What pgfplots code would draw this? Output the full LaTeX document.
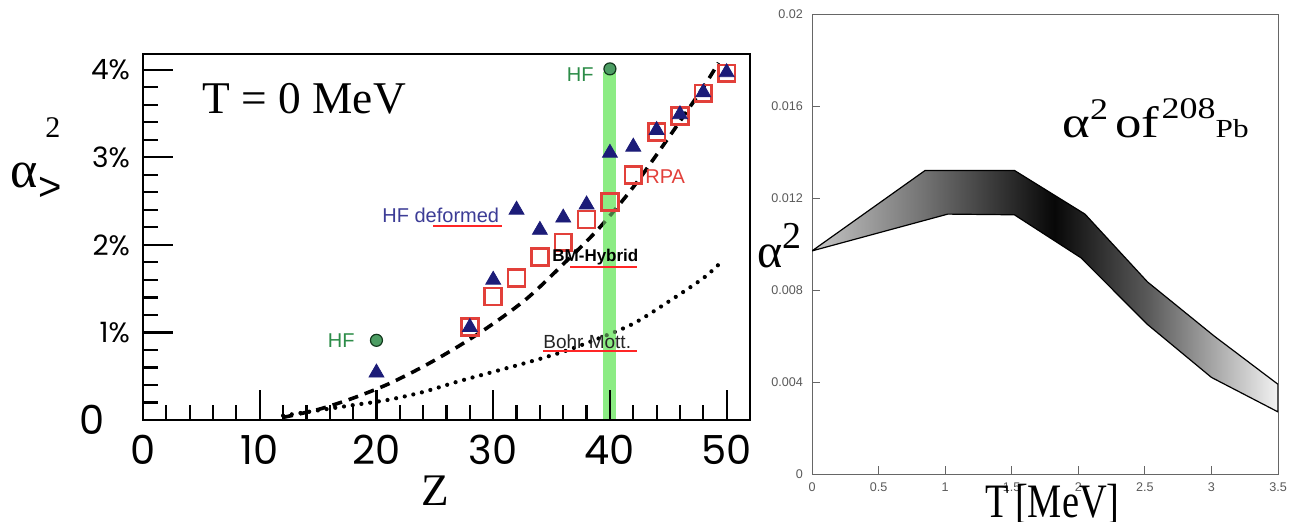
\documentclass[border=0pt]{standalone}
\usepackage{fontspec}
\setmainfont{Liberation Serif}
\newfontfamily\pop{Poppins}
\newfontfamily\lsans{Liberation Sans}
\usepackage{pgfplots}
\pgfplotsset{compat=1.18}

\definecolor{hfgreen}{RGB}{44,140,72}
\definecolor{bandgreen}{RGB}{140,236,132}
\definecolor{navy}{RGB}{28,28,120}
\definecolor{rpared}{RGB}{226,64,58}
\definecolor{defblue}{RGB}{60,60,150}

% grey band: light at T=0, black near T=1.8, almost white at T=3.5
\pgfdeclarehorizontalshading{alphaband}{100bp}{color(0bp)=(black!22); color(25bp)=(black!22);
  color(37bp)=(black!55); color(51bp)=(black!97); color(61bp)=(black!65);
  color(68bp)=(black!35); color(75bp)=(black!5); color(100bp)=(black!5)}

\begin{document}
\begin{tikzpicture}
\useasboundingbox (0,0) rectangle (647pt,260.5pt);

% ---------- left: alpha^2 vs Z at T = 0 ----------
\begin{axis}[
  at={(71.5pt,50.5pt)}, anchor=south west,
  scale only axis, width=303.5pt, height=183pt,
  xmin=0, xmax=52, ymin=0, ymax=4.18,
  axis on top,
  axis line style={line width=1.3pt},
  tick align=inside,
  xtick={0,10,20,30,40,50}, xticklabels={0,10,20,30,40,50},
  ytick={0,1,2,3,4}, yticklabels={{},1\%,2\%,3\%,4\%},
  minor x tick num=4, minor y tick num=4,
  xtick pos=left, ytick pos=left,
  major tick length=15pt, minor tick length=7.5pt,
  tick style={black, line width=1.1pt},
  xticklabel style={font=\pop\fontsize{20}{20}\selectfont, yshift=-4pt},
  yticklabel style={font=\pop\fontsize{14}{14}\selectfont, xshift=-3pt},
]
% HF band at Z = 40
\addplot[draw=none, fill=bandgreen] coordinates {(39.4,0)(40.5,0)(40.5,3.98)(39.4,3.98)} -- cycle;

% BM-Hybrid
\addplot[black, line width=1.8pt, dash pattern=on 5pt off 3.5pt, smooth] coordinates {
(12,0.03)(15,0.12)(18,0.25)(21,0.41)(24,0.61)(27,0.84)(30,1.1)(33,1.4)
(36,1.78)(39,2.18)(42,2.66)(45,3.22)(48,3.8)(49.3,4.08)};
% Bohr-Mott
\addplot[black, line width=2.1pt, line cap=round, dash pattern=on 0pt off 4.4pt, smooth] coordinates {
(12,0.05)(15,0.11)(18,0.17)(21,0.23)(24,0.32)(27,0.44)(30,0.55)(33,0.66)
(36,0.78)(39,0.93)(42,1.1)(45,1.35)(48,1.62)(49.5,1.8)};

% RPA
\addplot[only marks, mark=square, mark size=4.2pt, mark options={draw=rpared, line width=1.3pt}] coordinates {
(28,1.06)(30,1.41)(32,1.62)(34,1.86)(36,2.03)(38,2.29)(40,2.49)(42,2.8)
(44,3.29)(46,3.47)(48,3.73)(50,3.96)};
% HF deformed
\addplot[only marks, mark=triangle*, mark size=4.3pt, mark options={fill=navy, draw=navy}] coordinates {
(20,0.54)(28,1.06)(30,1.6)(32,2.4)(34,2.17)(36,2.31)(38,2.46)(40,3.05)
(42,3.12)(44,3.31)(46,3.49)(48,3.74)(50,3.97)};

% band again, see-through, over the marks
\addplot[draw=none, fill=bandgreen, fill opacity=0.5] coordinates {(39.4,0)(40.5,0)(40.5,3.98)(39.4,3.98)} -- cycle;

% HF spherical
\addplot[only marks, mark=*, mark size=3pt, mark options={fill=hfgreen!85, draw=black!60!hfgreen, line width=0.6pt}] coordinates {
(20,0.91)(40,4.01)};
\end{axis}

% ---------- right: alpha^2 of 208Pb vs T ----------
\begin{axis}[
  at={(406pt,23.5pt)}, anchor=south west,
  scale only axis, width=233pt, height=230pt,
  xmin=0, xmax=3.5, ymin=0, ymax=0.02,
  xtick={0,0.5,1,1.5,2,2.5,3,3.5}, xticklabels={0,0.5,1,1.5,2,2.5,3,3.5},
  ytick={0,0.004,0.008,0.012,0.016,0.02}, yticklabels={0,0.004,0.008,0.012,0.016,0.02},
  scaled y ticks=false,
  axis line style={black!60, line width=0.5pt},
  tick style={black!60, line width=0.5pt},
  major tick length=4pt, tick align=inside,
  xtick pos=left, ytick pos=left,
  ticklabel style={font=\lsans\fontsize{6.3}{7}\selectfont, text=black!65},
  xticklabel style={yshift=-1pt}, yticklabel style={xshift=-1pt},
]
\addplot[draw=black, line width=0.6pt, shading=alphaband] coordinates {
(0,0.0097)(0.85,0.0132)(1.52,0.0132)(2.05,0.0113)(2.52,0.00835)(3.02,0.006)(3.5,0.0039)
(3.5,0.0027)(3.0,0.0042)(2.52,0.0065)(2.02,0.0094)(1.52,0.01127)(1.02,0.0113)(0,0.0097)} -- cycle;
\end{axis}

% ---------- texts, placed in pixel units of the reference ----------
\begin{scope}[x=0.5pt, y=-0.5pt, yshift=260.5pt]
\node[anchor=base west, inner sep=0, font=\fontsize{22.7}{24}\selectfont] at (202,113) {T = 0 MeV};
\node[anchor=base west, inner sep=0, font=\fontsize{26}{26}\selectfont] at (10,187) {α};
\node[anchor=base west, inner sep=0, font=\fontsize{15}{15}\selectfont] at (45,137) {2};
\node[anchor=base west, inner sep=0, font=\lsans\fontsize{20}{20}\selectfont] at (38,200) {>};
\node[anchor=center, inner sep=0, font=\pop\fontsize{20}{20}\selectfont] at (92,420) {0};
\node[anchor=base, inner sep=0, font=\fontsize{22.6}{23}\selectfont] at (435,505) {Z};

\node[anchor=east, inner sep=0, text=hfgreen, font=\lsans\fontsize{10}{10}\selectfont] at (355,341) {HF};
\node[anchor=east, inner sep=0, text=hfgreen, font=\lsans\fontsize{10}{10}\selectfont] at (594,75) {HF};
\node[anchor=west, inner sep=0, text=defblue, font=\lsans\fontsize{10}{10}\selectfont] at (382,215) {HF deformed};
\node[anchor=west, inner sep=0, text=rpared, font=\lsans\fontsize{10}{10}\selectfont] at (645,177) {RPA};
\node[anchor=west, inner sep=0, font=\lsans\bfseries\fontsize{8.5}{9}\selectfont] at (552,257) {BM-Hybrid};
\node[anchor=west, inner sep=0, text=black!85, font=\lsans\fontsize{9.5}{10}\selectfont] at (543,342) {Bohr Mott.};
\draw[red!85, line width=0.6pt] (433,226) -- (502,226);
\draw[red!85, line width=0.6pt] (570,267) -- (637,267);
\draw[red!85, line width=0.6pt] (543,351) -- (637,351);

\node[anchor=base west, inner sep=0, xscale=1.2] at (1062,137)
  {\fontsize{22}{22}\selectfont α\raisebox{9pt}{\fontsize{15}{15}\selectfont 2}\hspace{3pt}of\hspace{1pt}\raisebox{9.5pt}{\fontsize{15}{15}\selectfont 208}\fontsize{13}{13}\selectfont Pb};
\node[anchor=base west, inner sep=0] at (757,267)
  {\fontsize{24}{24}\selectfont α\raisebox{9.5pt}{\fontsize{19}{19}\selectfont 2}};
\node[anchor=base west, inner sep=0, xscale=0.8] at (985,517)
  {\fontsize{24}{24}\selectfont T\,[MeV]};
\end{scope}
\end{tikzpicture}
\end{document}
